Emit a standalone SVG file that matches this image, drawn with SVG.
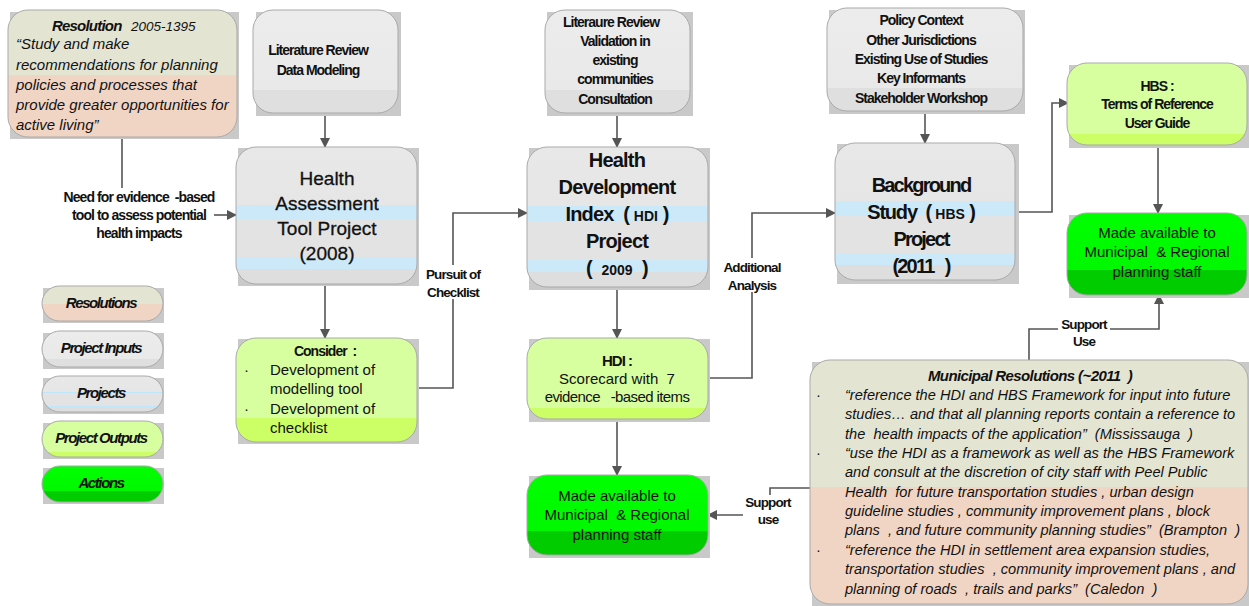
<svg xmlns="http://www.w3.org/2000/svg" width="1249" height="606" viewBox="0 0 1249 606">
  <defs>
    <linearGradient id="gRes" x1="0" y1="0" x2="0" y2="1">
      <stop offset="0" stop-color="#e4e4d3"/><stop offset="0.51" stop-color="#e4e4d3"/>
      <stop offset="0.51" stop-color="#f1d5c4"/><stop offset="1" stop-color="#f1d5c4"/>
    </linearGradient>
    <linearGradient id="gMun" x1="0" y1="0" x2="0" y2="1">
      <stop offset="0" stop-color="#e4e4d3"/><stop offset="0.52" stop-color="#e4e4d3"/>
      <stop offset="0.52" stop-color="#f1d5c4"/><stop offset="1" stop-color="#f1d5c4"/>
    </linearGradient>
    <linearGradient id="gIn" x1="0" y1="0" x2="0" y2="1">
      <stop offset="0" stop-color="#ececec"/><stop offset="0.78" stop-color="#e9e9e9"/>
      <stop offset="0.78" stop-color="#dfdfdf"/><stop offset="1" stop-color="#dfdfdf"/>
    </linearGradient>
    <linearGradient id="gProj" x1="0" y1="0" x2="0" y2="1">
      <stop offset="0" stop-color="#e8e8e8"/><stop offset="0.42" stop-color="#e6e6e6"/>
      <stop offset="0.42" stop-color="#cce9fa"/><stop offset="0.535" stop-color="#cce9fa"/>
      <stop offset="0.535" stop-color="#e3e3e3"/><stop offset="0.805" stop-color="#e3e3e3"/>
      <stop offset="0.805" stop-color="#cce9fa"/><stop offset="0.89" stop-color="#cce9fa"/>
      <stop offset="0.89" stop-color="#dedede"/><stop offset="1" stop-color="#dedede"/>
    </linearGradient>
    <linearGradient id="gProjL" x1="0" y1="0" x2="0" y2="1">
      <stop offset="0" stop-color="#e8e8e8"/><stop offset="0.45" stop-color="#e6e6e6"/>
      <stop offset="0.45" stop-color="#bfe6fb"/><stop offset="0.48" stop-color="#bfe6fb"/>
      <stop offset="0.48" stop-color="#e3e3e3"/><stop offset="0.82" stop-color="#e3e3e3"/>
      <stop offset="0.82" stop-color="#bfe6fb"/><stop offset="0.85" stop-color="#bfe6fb"/>
      <stop offset="0.85" stop-color="#dedede"/><stop offset="1" stop-color="#dedede"/>
    </linearGradient>
    <linearGradient id="gOut" x1="0" y1="0" x2="0" y2="1">
      <stop offset="0" stop-color="#d7ff9f"/><stop offset="0.87" stop-color="#d7ff9f"/>
      <stop offset="0.87" stop-color="#ccff66"/><stop offset="1" stop-color="#ccff66"/>
    </linearGradient>
    <linearGradient id="gOut2" x1="0" y1="0" x2="0" y2="1">
      <stop offset="0" stop-color="#d7ff9f"/><stop offset="0.77" stop-color="#d7ff9f"/>
      <stop offset="0.77" stop-color="#ccff66"/><stop offset="1" stop-color="#ccff66"/>
    </linearGradient>
    <linearGradient id="gAct" x1="0" y1="0" x2="0" y2="1">
      <stop offset="0" stop-color="#00ff00"/><stop offset="0.7" stop-color="#00f800"/>
      <stop offset="0.7" stop-color="#00cc00"/><stop offset="1" stop-color="#00cc00"/>
    </linearGradient>
    <marker id="arr" viewBox="0 0 10 10" refX="9" refY="5" markerWidth="10" markerHeight="10" markerUnits="userSpaceOnUse" orient="auto">
      <path d="M0,0 L10,5 L0,10 z" fill="#555555"/>
    </marker>
  </defs>
  <style>
    .shadow { fill: #c9c9c9; }
    .box { stroke: #a9a9a9; stroke-width: 1; }
    .t { font-family: "Liberation Sans", Arial, sans-serif; fill: #111111; text-anchor: middle; }
    .tl { font-family: "Liberation Sans", Arial, sans-serif; fill: #111111; }
    .b { font-weight: bold; }
    .i { font-style: italic; }
    .cond { letter-spacing: -1px; }
    .lbl { font-family: "Liberation Sans", Arial, sans-serif; font-weight: bold; font-size: 13.5px; letter-spacing: -0.9px; text-anchor: middle; fill: #111111; }
    .conn { fill: none; stroke: #555555; stroke-width: 1.6; }
    .bg { fill: #ffffff; }
  </style>

  <rect width="1249" height="606" fill="#ffffff"/>

  <!-- connectors -->
  <g id="connectors">
    <path class="conn" d="M122,138 V188"/>
    <path class="conn" d="M214,215 H236" marker-end="url(#arr)"/>
    <path class="conn" d="M325,114 V147" marker-end="url(#arr)"/>
    <path class="conn" d="M325,285 V338" marker-end="url(#arr)"/>
    <path class="conn" d="M417,388 H453 V213 H527" marker-end="url(#arr)"/>
    <path class="conn" d="M617,114 V147" marker-end="url(#arr)"/>
    <path class="conn" d="M617,287 V338" marker-end="url(#arr)"/>
    <path class="conn" d="M617,419 V475" marker-end="url(#arr)"/>
    <path class="conn" d="M708,378 H752 V213 H835" marker-end="url(#arr)"/>
    <path class="conn" d="M925,113 V143" marker-end="url(#arr)"/>
    <path class="conn" d="M1015,212 H1052 V103 H1068" marker-end="url(#arr)"/>
    <path class="conn" d="M1158,146 V213" marker-end="url(#arr)"/>
    <path class="conn" d="M1029,360 V329 H1159 V295" marker-end="url(#arr)"/>
    <path class="conn" d="M810,488 H770 V515 H708" marker-end="url(#arr)"/>

    <!-- connector labels -->
    <text class="lbl" x="139" y="202" style="font-size:14px" xml:space="preserve">Need for evidence  -based</text>
    <text class="lbl" x="139" y="220" style="font-size:14px">tool to assess potential</text>
    <text class="lbl" x="139" y="238" style="font-size:14px">health impacts</text>

    <rect class="bg" x="424" y="265" width="60" height="34"/>
    <text class="lbl" x="453" y="279">Pursuit of</text>
    <text class="lbl" x="453" y="297">Checklist</text>

    <rect class="bg" x="720" y="258" width="64" height="34"/>
    <text class="lbl" x="752" y="272">Additional</text>
    <text class="lbl" x="752" y="290">Analysis</text>

    <rect class="bg" x="1058" y="317" width="52" height="32"/>
    <text class="lbl" x="1084" y="329">Support</text>
    <text class="lbl" x="1084" y="346">Use</text>

    <rect class="bg" x="743" y="495" width="52" height="32"/>
    <text class="lbl" x="768" y="507">Support</text>
    <text class="lbl" x="768" y="524">use</text>
  </g>

  <!-- resolution 2005-1395 -->
  <g id="resolution">
    <rect class="shadow" x="10" y="12" width="229" height="127"/>
    <rect class="box" x="8" y="10" width="229" height="127" rx="20" fill="url(#gRes)"/>
    <text class="tl b i" x="52" y="31" font-size="15" letter-spacing="-0.8">Resolution</text>
    <text class="tl i" x="131" y="31" font-size="13.5">2005-1395</text>
    <text class="tl i" x="16" y="49" font-size="15">“Study and make</text>
    <text class="tl i" x="16" y="70" font-size="15">recommendations for planning</text>
    <text class="tl i" x="16" y="90" font-size="15">policies and processes that</text>
    <text class="tl i" x="16" y="110" font-size="15">provide greater opportunities for</text>
    <text class="tl i" x="16" y="130" font-size="15">active living”</text>
  </g>

  <!-- legend -->
  <g id="legend-resolutions">
    <rect class="shadow" x="43" y="288" width="121" height="35"/>
    <rect class="box" x="42" y="286" width="121" height="35" rx="17.5" fill="url(#gRes)"/>
    <text class="t b i" x="101" y="308" font-size="15" letter-spacing="-1.4">Resolutions</text>
  </g>
  <g id="legend-inputs">
    <rect class="shadow" x="43" y="333" width="121" height="36"/>
    <rect class="box" x="42" y="331" width="121" height="36" rx="18" fill="url(#gIn)"/>
    <text class="t b i" x="101" y="353" font-size="15" letter-spacing="-1.4">Project Inputs</text>
  </g>
  <g id="legend-projects">
    <rect class="shadow" x="43" y="378" width="121" height="36"/>
    <rect class="box" x="42" y="376" width="121" height="36" rx="18" fill="url(#gProjL)"/>
    <text class="t b i" x="101" y="398" font-size="15" letter-spacing="-1.4">Projects</text>
  </g>
  <g id="legend-outputs">
    <rect class="shadow" x="43" y="423" width="121" height="36"/>
    <rect class="box" x="42" y="421" width="121" height="36" rx="18" fill="url(#gOut)"/>
    <text class="t b i" x="101" y="443" font-size="15" letter-spacing="-1.4">Project Outputs</text>
  </g>
  <g id="legend-actions">
    <rect class="shadow" x="43" y="468" width="121" height="36"/>
    <rect class="box" x="42" y="466" width="121" height="36" rx="18" fill="url(#gAct)"/>
    <text class="t b i" x="101" y="488" font-size="15" letter-spacing="-1.4">Actions</text>
  </g>

  <!-- column 1: health assessment tool -->
  <g id="input-hat">
    <rect class="shadow" x="256" y="12" width="145" height="104"/>
    <rect class="box" x="253" y="10" width="145" height="103" rx="20" fill="url(#gIn)"/>
    <text class="t b cond" x="318" y="55" font-size="14">Literature Review</text>
    <text class="t b cond" x="318" y="75" font-size="14">Data Modeling</text>
  </g>
  <g id="project-hat">
    <rect class="shadow" x="238" y="148" width="181" height="138"/>
    <rect class="box" x="236" y="147" width="181" height="137" rx="20" fill="url(#gProj)"/>
    <text class="t" x="327" y="185" font-size="19" stroke="#111111" stroke-width="0.3">Health</text>
    <text class="t" x="327" y="210" font-size="19" stroke="#111111" stroke-width="0.3">Assessment</text>
    <text class="t" x="327" y="235" font-size="19" stroke="#111111" stroke-width="0.3">Tool Project</text>
    <text class="t" x="327" y="260" font-size="19" stroke="#111111" stroke-width="0.3">(2008)</text>
  </g>
  <g id="output-hat">
    <rect class="shadow" x="238" y="339" width="181" height="105"/>
    <rect class="box" x="236" y="338" width="181" height="104" rx="20" fill="url(#gOut2)"/>
    <text class="t b cond" x="325" y="356" font-size="14" xml:space="preserve">Consider  :</text>
    <text class="tl" x="244" y="375" font-size="15">·</text>
    <text class="tl" x="270" y="375" font-size="15">Development of</text>
    <text class="tl" x="270" y="394" font-size="15">modelling tool</text>
    <text class="tl" x="244" y="414" font-size="15">·</text>
    <text class="tl" x="270" y="414" font-size="15">Development of</text>
    <text class="tl" x="270" y="433" font-size="15">checklist</text>
  </g>

  <!-- column 2: health development index -->
  <g id="input-hdi">
    <rect class="shadow" x="547" y="12" width="146" height="104"/>
    <rect class="box" x="545" y="10" width="145" height="103" rx="20" fill="url(#gIn)"/>
    <text class="t b cond" x="611" y="27" font-size="14">Literaure Review</text>
    <text class="t b cond" x="615" y="46" font-size="14">Validation in</text>
    <text class="t b cond" x="615" y="65" font-size="14">existing</text>
    <text class="t b cond" x="615" y="84" font-size="14">communities</text>
    <text class="t b cond" x="615" y="104" font-size="14">Consultation</text>
  </g>
  <g id="project-hdi">
    <rect class="shadow" x="529" y="148" width="181" height="142"/>
    <rect class="box" x="527" y="147" width="181" height="140" rx="20" fill="url(#gProj)"/>
    <text class="t b" x="617" y="167" font-size="20" letter-spacing="-0.8">Health</text>
    <text class="t b" x="617" y="194" font-size="20" letter-spacing="-0.8">Development</text>
    <text class="t b" x="617" y="221" font-size="20" letter-spacing="-0.8" xml:space="preserve">Index  ( <tspan font-size="14" letter-spacing="0">HDI</tspan> )</text>
    <text class="t b" x="617" y="248" font-size="20" letter-spacing="-0.8">Project</text>
    <text class="t b" x="617" y="275" font-size="20" letter-spacing="-0.8" xml:space="preserve">(  <tspan font-size="14" letter-spacing="0">2009</tspan>  )</text>
  </g>
  <g id="output-hdi">
    <rect class="shadow" x="529" y="339" width="181" height="83"/>
    <rect class="box" x="527" y="338" width="181" height="81" rx="20" fill="url(#gOut)"/>
    <text class="t b cond" x="617" y="366" font-size="15">HDI :</text>
    <text class="t" x="617" y="384" font-size="15" xml:space="preserve">Scorecard with  7</text>
    <text class="t" x="617" y="402" font-size="15" letter-spacing="-0.6" xml:space="preserve">evidence   -based items</text>
  </g>
  <g id="action-hdi">
    <rect class="shadow" x="529" y="476" width="181" height="82"/>
    <rect class="box" x="527" y="475" width="181" height="80" rx="20" fill="url(#gAct)"/>
    <text class="t" x="617" y="501" font-size="15">Made available to</text>
    <text class="t" x="617" y="520" font-size="15" xml:space="preserve">Municipal  &amp; Regional</text>
    <text class="t" x="617" y="540" font-size="15">planning staff</text>
  </g>

  <!-- column 3: background study -->
  <g id="input-hbs">
    <rect class="shadow" x="829" y="10" width="196" height="104"/>
    <rect class="box" x="827" y="8" width="196" height="103" rx="20" fill="url(#gIn)"/>
    <text class="t b cond" x="921" y="25" font-size="14">Policy Context</text>
    <text class="t b cond" x="921" y="45" font-size="14">Other Jurisdictions</text>
    <text class="t b cond" x="921" y="64" font-size="14">Existing Use of Studies</text>
    <text class="t b cond" x="921" y="83" font-size="14">Key Informants</text>
    <text class="t b cond" x="921" y="103" font-size="14">Stakeholder Workshop</text>
  </g>
  <g id="project-hbs">
    <rect class="shadow" x="837" y="144" width="182" height="140"/>
    <rect class="box" x="835" y="143" width="180" height="137" rx="20" fill="url(#gProj)"/>
    <text class="t b" x="921" y="192" font-size="20" letter-spacing="-1.8">Background</text>
    <text class="t b" x="921" y="219" font-size="20" letter-spacing="-1.2" xml:space="preserve">Study  ( <tspan font-size="14" letter-spacing="0">HBS</tspan> )</text>
    <text class="t b" x="921" y="246" font-size="20" letter-spacing="-1.8">Project</text>
    <text class="t b" x="921" y="273" font-size="20" letter-spacing="-1.8" xml:space="preserve">(2011   )</text>
  </g>
  <g id="output-hbs">
    <rect class="shadow" x="1069" y="65" width="180" height="83"/>
    <rect class="box" x="1067" y="63" width="180" height="82" rx="20" fill="url(#gOut)"/>
    <text class="t b cond" x="1157" y="91" font-size="14">HBS :</text>
    <text class="t b cond" x="1157" y="109" font-size="14">Terms of Reference</text>
    <text class="t b cond" x="1157" y="128" font-size="14">User Guide</text>
  </g>
  <g id="action-hbs">
    <rect class="shadow" x="1069" y="215" width="180" height="83"/>
    <rect class="box" x="1067" y="213" width="180" height="82" rx="20" fill="url(#gAct)"/>
    <text class="t" x="1157" y="238" font-size="15">Made available to</text>
    <text class="t" x="1157" y="257" font-size="15" xml:space="preserve">Municipal  &amp; Regional</text>
    <text class="t" x="1157" y="277" font-size="15">planning staff</text>
  </g>

  <!-- municipal resolutions -->
  <g id="municipal-resolutions">
    <rect class="shadow" x="812" y="362" width="437" height="244"/>
    <rect class="box" x="810" y="360" width="438" height="244" rx="20" fill="url(#gMun)"/>
    <text class="t b i" x="1030" y="381" font-size="15" letter-spacing="-0.6" xml:space="preserve">Municipal Resolutions (~2011  )</text>
    <g class="tl i" font-size="14.6">
      <text x="816" y="400" font-style="normal">·</text>
      <text x="845" y="400">“reference the HDI and HBS Framework for input into future</text>
      <text x="845" y="419">studies… and that all planning reports contain a reference to</text>
      <text x="845" y="439" xml:space="preserve">the  health impacts of the application”  (Mississauga  )</text>
      <text x="816" y="458" font-style="normal">·</text>
      <text x="845" y="458">“use the HDI as a framework as well as the HBS Framework</text>
      <text x="845" y="477">and consult at the discretion of city staff with Peel Public</text>
      <text x="845" y="497" xml:space="preserve">Health  for future transportation studies , urban design</text>
      <text x="845" y="516" xml:space="preserve">guideline studies , community improvement plans , block</text>
      <text x="845" y="535" xml:space="preserve">plans  , and future community planning studies”  (Brampton  )</text>
      <text x="816" y="555" font-style="normal">·</text>
      <text x="845" y="555">“reference the HDI in settlement area expansion studies,</text>
      <text x="845" y="574" xml:space="preserve">transportation studies  , community improvement plans , and</text>
      <text x="845" y="594" xml:space="preserve">planning of roads  , trails and parks”  (Caledon  )</text>
    </g>
  </g>
</svg>
